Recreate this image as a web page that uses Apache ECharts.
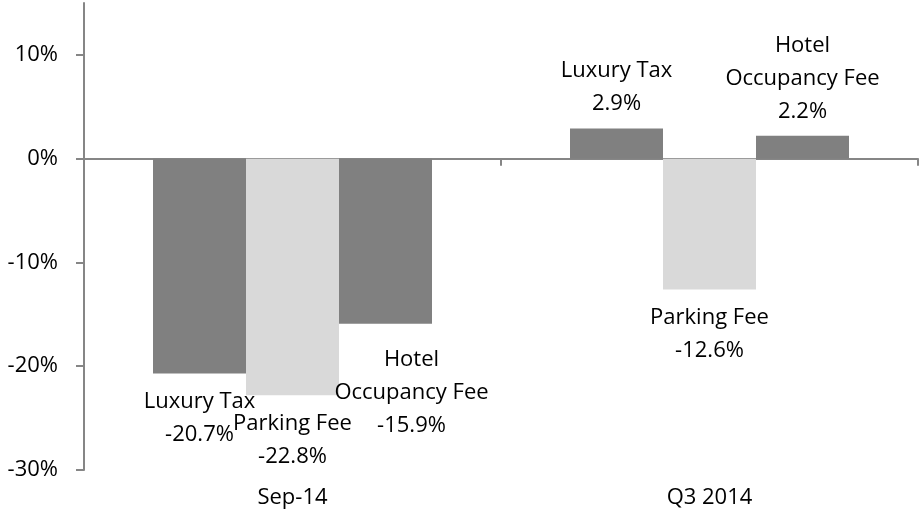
<!DOCTYPE html>
<html>
<head>
<meta charset="utf-8">
<script src="https://cdn.jsdelivr.net/npm/echarts@6/dist/echarts.min.js"></script>
<style>
  html, body { margin: 0; padding: 0; background: #fff; }
  #chart-container { width: 923px; height: 519px; }
</style>
</head>
<body>
<div id="chart-container"></div>
<script>
var categories = ["Sep-14", "Q3 2014"];
var seriesNames = ["Luxury Tax", "Parking Fee", "Hotel Occupancy Fee"];
var labelNames = ["Luxury Tax", "Parking Fee", "Hotel\nOccupancy Fee"];
var luxuryTax = [-20.7, 2.9];
var parkingFee = [-22.8, -12.6];
var hotelFee = [-15.9, 2.2];
var yTicks = [-30, -20, -10, 0, 10];

var dom = document.getElementById("chart-container");
var myChart = echarts.init(dom, null, { renderer: "canvas" });

var font = "Open Sans";
var axisColor = "#868686";
var colors = ["#808080", "#d9d9d9", "#808080"];
// Excel nudged the Sep-14 hotel label right/down to clear the parking label
var belowShift = [[0, 0], [0, 0], [26, 8]];

function makeSeries(idx, values) {
  return {
    name: seriesNames[idx],
    type: "bar",
    xAxisIndex: 0,
    barWidth: 93,
    barGap: "0%",
    itemStyle: { color: colors[idx] },
    label: {
      show: true,
      color: "#000",
      fontFamily: font,
      fontSize: 22,
      lineHeight: 33,
      align: "center",
      formatter: function (p) {
        return labelNames[idx] + "\n" + p.value.toFixed(1) + "%";
      },
    },
    data: values.map(function (v) {
      return {
        value: v,
        label: v < 0
          ? { position: "bottom", distance: 12, offset: belowShift[idx] }
          : { position: "top", distance: 8 },
      };
    }),
  };
}

var option = {
  animation: false,
  backgroundColor: "#fff",
  grid: { left: 84, right: 5, top: 3, bottom: 49 },
  xAxis: [
    {
      type: "category",
      data: categories,
      axisLine: { onZero: true, lineStyle: { color: axisColor, width: 2 } },
      axisTick: { show: true, length: 7, lineStyle: { color: axisColor, width: 2 } },
      axisLabel: { show: false },
    },
    {
      type: "category",
      data: categories,
      position: "bottom",
      axisLine: { show: false },
      axisTick: { show: false },
      axisLabel: { color: "#000", fontFamily: font, fontSize: 22, margin: 17 },
    },
  ],
  yAxis: {
    type: "value",
    min: -30,
    max: 15,
    interval: 10,
    splitLine: { show: false },
    axisLine: { show: true, lineStyle: { color: axisColor, width: 2 } },
    axisTick: { show: true, length: 8, customValues: yTicks, lineStyle: { color: axisColor, width: 2 } },
    axisLabel: {
      customValues: yTicks,
      color: "#000",
      fontFamily: font,
      fontSize: 22,
      margin: 26,
      formatter: function (v) { return v + "%"; },
    },
  },
  series: [
    makeSeries(0, luxuryTax),
    makeSeries(1, parkingFee),
    makeSeries(2, hotelFee),
  ],
};

myChart.setOption(option);
window.addEventListener("resize", myChart.resize);
</script>
</body>
</html>
